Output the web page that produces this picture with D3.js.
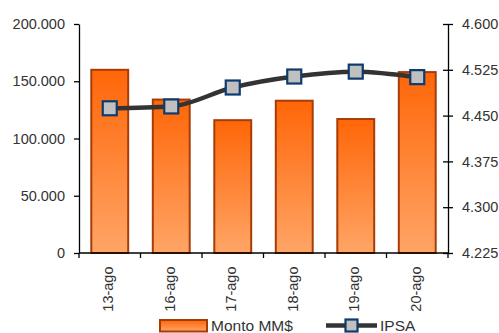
<!DOCTYPE html>
<html>
<head>
<meta charset="utf-8">
<script src="https://cdn.jsdelivr.net/npm/d3@7"></script>
<style>
  html, body { margin: 0; padding: 0; background: #fff; }
  svg { display: block; font-family: "Liberation Sans", Arial, sans-serif; }
</style>
</head>
<body>
<svg id="chart" width="499" height="333"></svg>
<script>
// Daily traded amount (MM$) and IPSA index level
const categories = ["13-ago", "16-ago", "17-ago", "18-ago", "19-ago", "20-ago"];
const montoValues = [160000, 134000, 116000, 133000, 117000, 158000];
const ipsaValues = [4.462, 4.465, 4.496, 4.514, 4.522, 4.513];
const leftTicks = [0, 50000, 100000, 150000, 200000];
const rightTicks = [4.225, 4.300, 4.375, 4.450, 4.525, 4.600];

const svg = d3.select("#chart");
const plot = { left: 79, right: 448, top: 24, bottom: 253 };

const x = d3.scaleBand().domain(categories)
  .range([plot.left, plot.right]).paddingInner(0.4).paddingOuter(0.2);
const yL = d3.scaleLinear().domain([0, 200000]).range([plot.bottom, plot.top]);
const yR = d3.scaleLinear().domain([4.225, 4.600]).range([plot.bottom, plot.top]);

const fmtL = v => d3.format(",")(v).replace(/,/g, ".");
const fmtR = v => d3.format(".3f")(v);
const fs = 14.5;

const defs = svg.append("defs");
const grad = defs.append("linearGradient").attr("id", "barGrad")
  .attr("x1", 0).attr("y1", 0).attr("x2", 0).attr("y2", 1);
grad.append("stop").attr("offset", "0%").attr("stop-color", "#ff6608");
grad.append("stop").attr("offset", "100%").attr("stop-color", "#ffa566");

// Bars
svg.append("g").selectAll("rect").data(categories).join("rect")
  .attr("x", d => x(d))
  .attr("y", (d, i) => yL(montoValues[i]))
  .attr("width", x.bandwidth())
  .attr("height", (d, i) => yL(0) - yL(montoValues[i]))
  .attr("fill", "url(#barGrad)")
  .attr("stroke", "#a83c06")
  .attr("stroke-width", 2);

// Axes
const axisStyle = g => {
  g.selectAll(".domain").attr("stroke", "#000").attr("stroke-width", 1.3);
  g.selectAll(".tick line").attr("stroke", "#000").attr("stroke-width", 1.3);
  g.selectAll("text").attr("fill", "#333").attr("font-size", fs);
};

svg.append("g").attr("transform", `translate(${plot.left},0)`)
  .call(d3.axisLeft(yL).tickValues(leftTicks).tickFormat(fmtL).tickSize(5).tickSizeOuter(0).tickPadding(9))
  .call(axisStyle);

const gR = svg.append("g").attr("transform", `translate(${plot.right},0)`)
  .call(d3.axisRight(yR).tickValues(rightTicks).tickFormat(fmtR).tickSize(5).tickSizeOuter(0).tickPadding(9))
  .call(axisStyle);
gR.selectAll(".tick line").attr("x1", -5);

// Category axis with ticks on band boundaries
const gX = svg.append("g").attr("transform", `translate(0,${plot.bottom})`);
gX.append("line").attr("x1", plot.left).attr("x2", plot.right)
  .attr("stroke", "#000").attr("stroke-width", 1.3);
const bounds = categories.map(d => x(d) - x.step() * 0.2).concat([plot.right]);
gX.selectAll("line.tk").data(bounds).join("line").attr("class", "tk")
  .attr("x1", d => d).attr("x2", d => d).attr("y1", 0).attr("y2", 5)
  .attr("stroke", "#000").attr("stroke-width", 1.3);
gX.selectAll("text").data(categories).join("text")
  .attr("transform", d => `translate(${x(d) + x.bandwidth() / 2 + 3.5},13.5) rotate(-90)`)
  .attr("text-anchor", "end")
  .attr("fill", "#333").attr("font-size", fs)
  .text(d => d);

// IPSA line
const pts = categories.map((d, i) => [x(d) + x.bandwidth() / 2, yR(ipsaValues[i])]);
svg.append("path").datum(pts)
  .attr("d", d3.line().curve(d3.curveMonotoneX))
  .attr("fill", "none").attr("stroke", "#333").attr("stroke-width", 4.5);
const ms = 14;
svg.append("g").selectAll("rect").data(pts).join("rect")
  .attr("x", d => d[0] - ms / 2).attr("y", d => d[1] - ms / 2)
  .attr("width", ms).attr("height", ms)
  .attr("fill", "#c0c0c0").attr("stroke", "#0d3b6e").attr("stroke-width", 2.2);

// Legend
const lg = svg.append("g");
lg.append("rect").attr("x", 160).attr("y", 320).attr("width", 47).attr("height", 11.5)
  .attr("fill", "url(#barGrad)").attr("stroke", "#a83c06").attr("stroke-width", 2);
lg.append("text").attr("x", 211).attr("y", 331).attr("font-size", 15.5).attr("fill", "#333").text("Monto MM$");
lg.append("line").attr("x1", 326).attr("x2", 377).attr("y1", 325.5).attr("y2", 325.5)
  .attr("stroke", "#333").attr("stroke-width", 4.5);
const lms = 12;
lg.append("rect").attr("x", 351.5 - lms / 2).attr("y", 325.5 - lms / 2).attr("width", lms).attr("height", lms)
  .attr("fill", "#c0c0c0").attr("stroke", "#0d3b6e").attr("stroke-width", 2.2);
lg.append("text").attr("x", 380).attr("y", 331).attr("font-size", 15.5).attr("fill", "#333").text("IPSA");
</script>
</body>
</html>
